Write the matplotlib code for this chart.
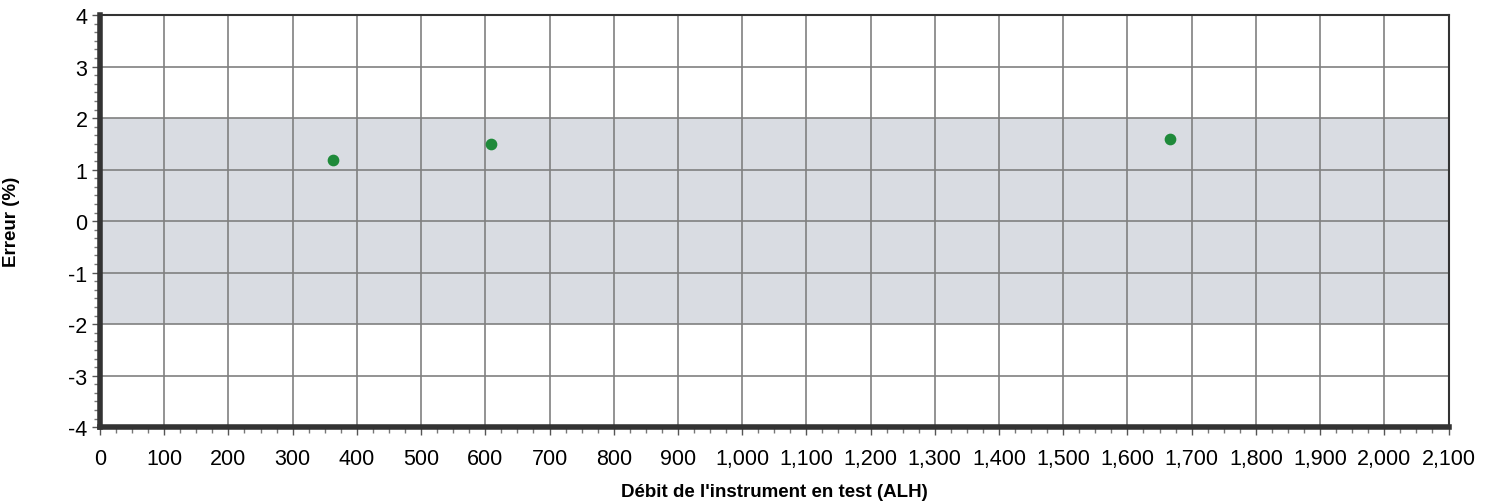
import matplotlib
matplotlib.use('Agg')
import matplotlib.pyplot as plt
from matplotlib.ticker import MultipleLocator, AutoMinorLocator, FuncFormatter

plt.rcParams['font.family'] = ['Liberation Sans', 'DejaVu Sans']
plt.rcParams['axes.unicode_minus'] = False

# Données
debit = [363, 609, 1667]
erreur = [1.18, 1.50, 1.59]
tol_min, tol_max = -2, 2

fig = plt.figure(figsize=(14.95, 5.02), dpi=100)
ax = fig.add_axes([0.0669, 0.147, 0.902, 0.821])

ax.set_xlim(0, 2100)
ax.set_ylim(-4, 4)

# bande de tolérance
ax.axhspan(tol_min, tol_max, facecolor='#d9dce2', edgecolor='none', zorder=0)

ax.xaxis.set_major_locator(MultipleLocator(100))
ax.xaxis.set_minor_locator(AutoMinorLocator(4))
ax.yaxis.set_major_locator(MultipleLocator(1))
ax.yaxis.set_minor_locator(AutoMinorLocator(6))
ax.xaxis.set_major_formatter(FuncFormatter(lambda v, p: f'{int(v):,}'))

ax.grid(True, which='major', color='#808080', linewidth=1.2, zorder=1)
ax.set_axisbelow(True)

ax.scatter(debit, erreur, s=55, color='#1f8a3a', zorder=3)

for s in ['top', 'right']:
    ax.spines[s].set_linewidth(1.5)
    ax.spines[s].set_color('#333333')
for s in ['left', 'bottom']:
    ax.spines[s].set_linewidth(4)
    ax.spines[s].set_color('#333333')

ax.tick_params(axis='both', which='major', labelsize=15.5, length=6, color='#555555', width=1)
ax.tick_params(axis='both', which='minor', length=4, color='#777777', width=1)
ax.tick_params(axis='x', pad=9)
ax.tick_params(axis='y', pad=3)

ax.set_xlabel("Débit de l'instrument en test (ALH)", fontsize=13.5, fontweight='bold', labelpad=10)
ax.set_ylabel('Erreur (%)', fontsize=13.5, fontweight='bold')
ax.yaxis.set_label_coords(-0.059, 0.5)

fig.savefig('out.png', dpi=100, facecolor='white')
